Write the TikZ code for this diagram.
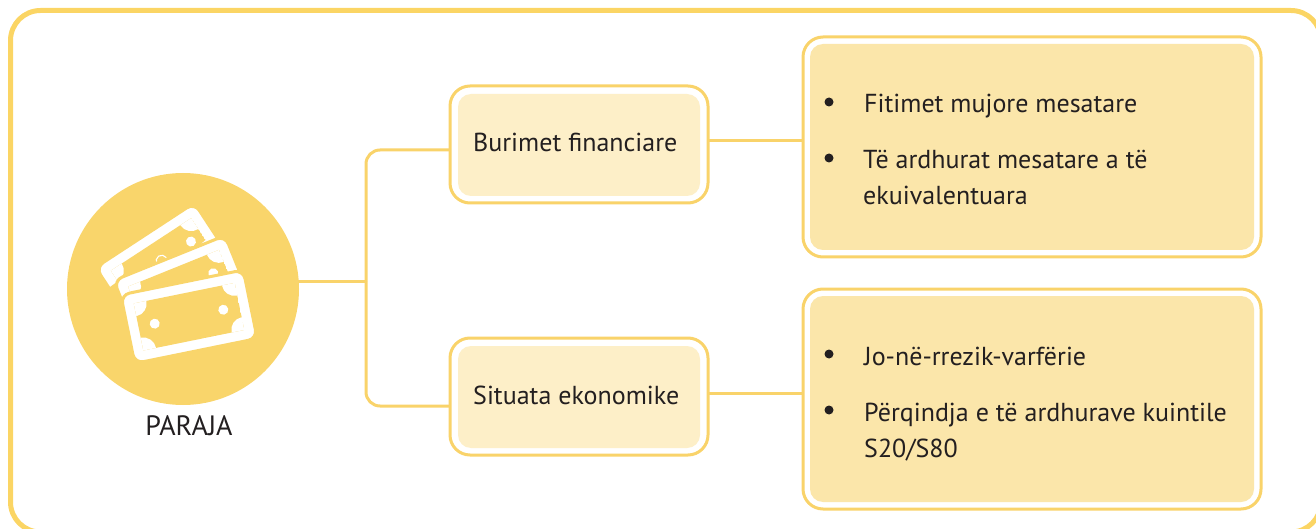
\documentclass[tikz,border=0pt]{standalone}
\usepackage{fontspec}
\setmainfont{PT Sans}
\usetikzlibrary{positioning}
\definecolor{frameY}{HTML}{FBD564}
\definecolor{lineY}{HTML}{F9D36A}
\definecolor{circY}{HTML}{F9D56B}
\definecolor{softY}{HTML}{FDEFC8}
\definecolor{midY}{HTML}{FBE6AA}
\definecolor{ink}{HTML}{231F20}
\tikzset{
  x=1pt,y=-1pt,
  frame/.style={draw=frameY,line width=5pt,rounded corners=30pt},
  outerbox/.style={draw=lineY,line width=3pt,fill=white,rectangle,rounded corners=20pt,inner sep=0pt,outer sep=0pt},
  softbox/.style={fill=softY,rectangle,rounded corners=13pt,inner sep=0pt,outer sep=0pt},
  midbox/.style={fill=midY,rectangle,rounded corners=13pt,inner sep=0pt,outer sep=0pt},
  conn/.style={draw=lineY,line width=3pt,rounded corners=14pt},
  label/.style={anchor=base west,inner sep=0pt,text=ink,font=\fontsize{26}{30}\selectfont},
  bullet/.style={circle,fill=ink,minimum size=9pt,inner sep=0pt},
}
% centre x, centre y, angle, width, height, medallion radius
\newcommand{\banknote}[6]{%
  \begin{scope}[shift={(#1,#2)},rotate=#3]
    \fill[white,draw=circY,line width=3pt,rounded corners=9pt] (-#4/2,-#5/2) rectangle (#4/2,#5/2);
    \begin{scope}
      \clip (-#4/2+11,-#5/2+11) rectangle (#4/2-11,#5/2-11);
      \fill[circY] (-#4/2+11,-#5/2+11) rectangle (#4/2-11,#5/2-11);
      \foreach \sx/\sy in {-1/-1,1/-1,1/1,-1/1}
        \fill[white] ({\sx*(#4/2-11)},{\sy*(#5/2-11)}) circle (13pt);
    \end{scope}
    \foreach \sx in {-1,1}
      \fill[white] ({\sx*35},0) circle (5pt);
    \draw[white,line width=1.1pt] (0,0) circle (#6pt);
  \end{scope}}
\begin{document}
\begin{tikzpicture}
\useasboundingbox (0,0) rectangle (1316,529);
\draw[frame] (10.5,10.5) rectangle (1321,532);

% boxes
\node[outerbox,minimum width=258pt,minimum height=117pt] (fin) at (579,144.5) {};
\node[softbox,minimum width=242pt,minimum height=102pt] (finIn) at (579,145) {};
\node[outerbox,minimum width=258pt,minimum height=117pt] (eko) at (579,396.5) {};
\node[softbox,minimum width=242pt,minimum height=102pt] (ekoIn) at (579,397) {};
\node[outerbox,minimum width=458pt,minimum height=220pt] (r1) at (1032,147) {};
\node[midbox,minimum width=444pt,minimum height=206pt] (r1In) at (1032,147) {};
\node[outerbox,minimum width=458pt,minimum height=220pt] (r2) at (1032,399) {};
\node[midbox,minimum width=444pt,minimum height=206pt] (r2In) at (1032,399) {};

% circle
\coordinate (hub) at (366,281);
\draw[conn] (hub) -- (hub -| 290,0);
\node[circle,fill=circY,minimum size=232pt,inner sep=0pt,outer sep=0pt] (money) at (183,289) {};

% connectors
\draw[conn] ([yshift=-5.5pt]fin.west) -| (hub);
\draw[conn] ([yshift=-9.5pt]eko.west) -| (hub);
\draw[conn,rounded corners=0pt] ([yshift=3.5pt]fin.east) -- ([yshift=3.5pt]fin.east -| r1.west);
\draw[conn,rounded corners=0pt] ([yshift=3.5pt]eko.east) -- ([yshift=3.5pt]eko.east -| r2.west);

% banknotes
\banknote{161.7}{260.7}{33.2}{118}{61}{5.5}
\fill[circY] (110,287) -- (117.5,281.5) -- (138,334) -- (110,330) -- cycle;
\banknote{180.8}{286.3}{22}{120}{61}{0}
\banknote{189}{316.7}{11.5}{125}{70}{0}

% labels
\node[label,anchor=base,font=\fontsize{28}{30}\selectfont] (paraja) at (189,435) {PARAJA};
\node[label] (t1) at (473,152) {Burimet financiare};
\node[label] (t2) at (473,404) {Situata ekonomike};
\node[bullet] (b1) at (829,102) {};
\node[bullet] (b2) at (829,158) {};
\node[bullet] (b3) at (829,354) {};
\node[bullet] (b4) at (829,410) {};
\node[label] (t3) at (864,113) {Fitimet mujore mesatare};
\node[label] (t4) at (863,169) {Të ardhurat mesatare a të};
\node[label] (t5) at (863,205) {ekuivalentuara};
\node[label] (t6) at (864,365) {Jo-në-rrezik-varfërie};
\node[label] (t7) at (864,421) {Përqindja e të ardhurave kuintile};
\node[label] (t8) at (864,457) {S20/S80};
\end{tikzpicture}
\end{document}
